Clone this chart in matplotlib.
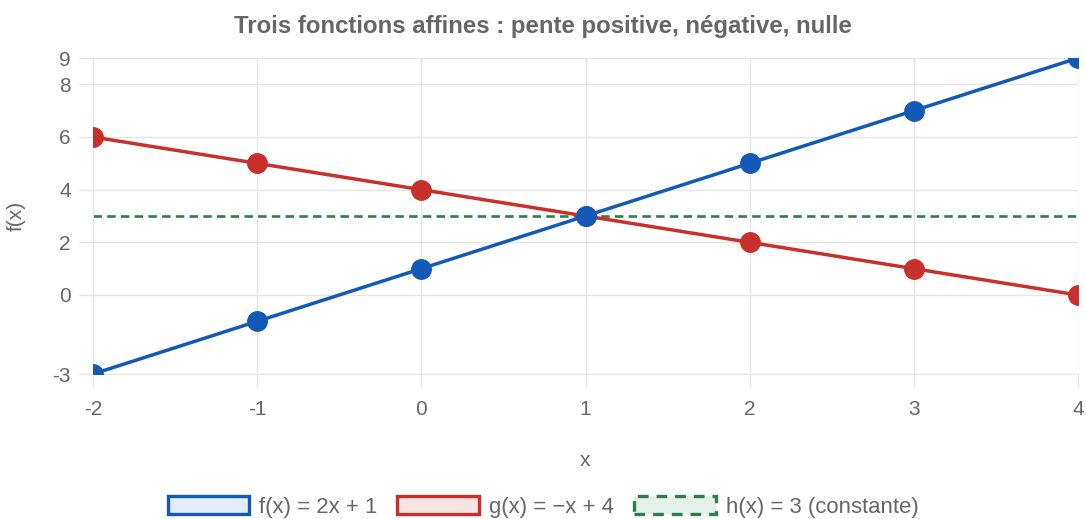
import matplotlib
matplotlib.use("Agg")
import matplotlib.pyplot as plt
import matplotlib.patches as mpatches
import numpy as np

plt.rcParams['font.family'] = ['Liberation Sans', 'DejaVu Sans']

x_vals = [-2, -1, 0, 1, 2, 3, 4]
f_vals = [-3, -1, 1, 3, 5, 7, 9]
g_vals = [6, 5, 4, 3, 2, 1, 0]
h_vals = [3, 3, 3, 3, 3, 3, 3]
y_ticks = [-3, 0, 2, 4, 6, 8, 9]
x_ticks = [-2, -1, 0, 1, 2, 3, 4]

labels = ["f(x) = 2x + 1", "g(x) = \u2212x + 4", "h(x) = 3 (constante)"]
title = "Trois fonctions affines : pente positive, n\u00e9gative, nulle"

blue = '#1259b8'
red = '#c9302c'
green = '#2e7d4a'
grid_c = '#e6e6e6'
txt_c = '#666666'

fig = plt.figure(figsize=(10.86, 5.19), dpi=100)
ax = fig.add_axes([93/1086, 1-374/519, (1078-93)/1086, (374-58)/519])

ax.plot(x_vals, h_vals, color=green, lw=1.9, ls=(0, (3.2, 2.0)), zorder=2)
ax.plot(x_vals, g_vals, color=red, lw=2.5, marker='o', ms=14, zorder=3)
ax.plot(x_vals, f_vals, color=blue, lw=2.5, marker='o', ms=14, zorder=4)

ax.set_xlim(-2, 4)
ax.set_ylim(-3, 9)
ax.set_xticks(x_ticks)
ax.set_yticks(y_ticks)
ax.set_xticklabels([str(v) for v in x_ticks])
ax.set_yticklabels([str(v) for v in y_ticks])
ax.grid(True, color=grid_c, lw=1)
ax.set_axisbelow(True)
for s in ['top', 'right']:
    ax.spines[s].set_visible(False)
ax.spines['left'].set_color(grid_c)
ax.spines['bottom'].set_color(grid_c)
ax.tick_params(axis='both', colors=txt_c, labelsize=15, length=10, width=1, color=grid_c)
ax.tick_params(axis='x', pad=9)
ax.tick_params(axis='y', pad=6)

ax.set_xlabel('x', color=txt_c, fontsize=15, va='center')
ax.xaxis.set_label_coords(0.5, (374-461)/316)
ax.set_ylabel('f(x)', color=txt_c, fontsize=15, va='center')
ax.yaxis.set_label_coords((16-93)/985, (374-216)/316)
fig.text(0.5, 1-26/519, title, ha='center', va='center', fontsize=17.3, fontweight='bold', color=txt_c)

handles = [
    mpatches.Rectangle((0, 0), 1, 1, facecolor='#e3ecf7', edgecolor=blue, lw=2.4),
    mpatches.Rectangle((0, 0), 1, 1, facecolor='#f7e5e5', edgecolor=red, lw=2.4),
    mpatches.Rectangle((0, 0), 1, 1, facecolor='#e6f0ea', edgecolor=green, lw=2.4, ls=(0, (3.2, 2.4))),
]
leg = fig.legend(handles, labels, loc='center', bbox_to_anchor=(0.5, 1-507/519), ncol=3,
                 frameon=False, fontsize=15.9, handlelength=3.7, handleheight=0.9,
                 handletextpad=0.45, columnspacing=0.9, labelcolor=txt_c)

fig.savefig('out.png', dpi=100)
